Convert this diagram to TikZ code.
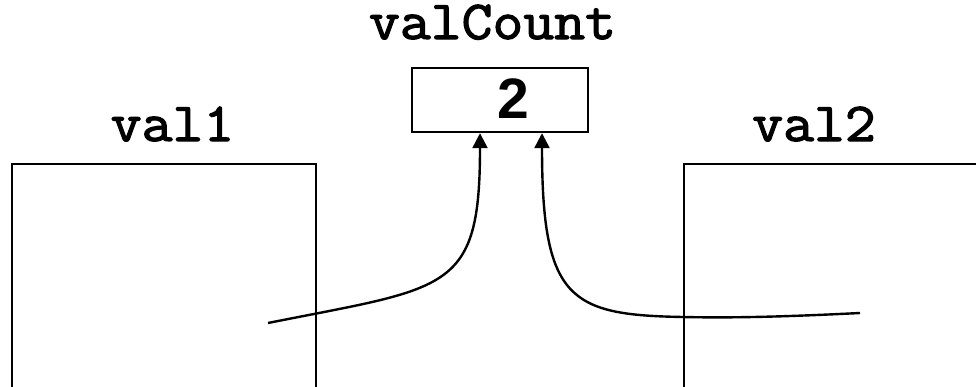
\documentclass[tikz,border=0pt]{standalone}
\usepackage{fontspec}
\setmainfont{Liberation Sans}
\newfontfamily\codefont{Latin Modern Mono}[FakeBold=2.2, FakeStretch=1.09]
\usetikzlibrary{arrows.meta}

\begin{document}
\begin{tikzpicture}[x=1pt, y=-1pt, line width=2.4pt,
  varname/.style={anchor=base, inner sep=0pt, text height=30pt, text depth=0pt,
                  font=\fontsize{55}{56}\selectfont\codefont},
  cell/.style={draw, rectangle, inner sep=0pt},
  link/.style={-{Triangle[length=15pt, width=15pt]}}]
  \useasboundingbox (0,0) rectangle (976,386);
  \clip (0,0) rectangle (976,386);

  % variable names
  \node[varname] (lblcount) at (492.5,39) {valCount};
  \node[varname] (lbl1) at (172.5,141) {val1};
  \node[varname] (lbl2) at (814,141) {val2};

  % storage cells
  \node[cell, minimum width=176pt, minimum height=64pt] (count) at (500,100) {};
  \node[font=\fontsize{57}{60}\selectfont\bfseries, inner sep=0pt] (countval) at (513,98.5) {2};
  \node[cell, minimum width=304pt, minimum height=304pt] (val1) at (164,316) {};
  \node[cell, minimum width=304pt, minimum height=304pt] (val2) at (836,316) {};

  % references into the counter
  \coordinate (s1) at (268,323);
  \coordinate (s2) at (860,313);
  \draw[link] (s1) .. controls (448,287) and (480,293) .. ([xshift=-20pt]count.south);
  \draw[link] (s2) .. controls (780,317) and (730,318) .. (683,317)
              .. controls (570,315) and (542,300) .. ([xshift=42pt]count.south);
\end{tikzpicture}
\end{document}
